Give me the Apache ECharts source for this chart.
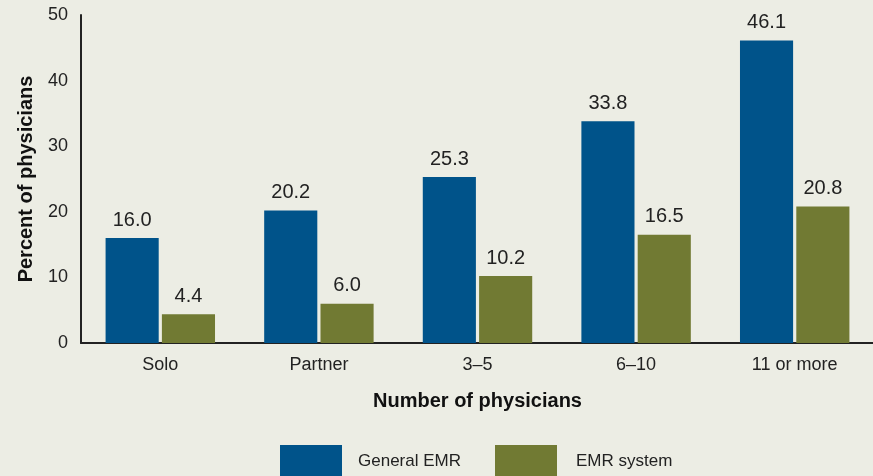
<!DOCTYPE html>
<html><head><meta charset="utf-8">
<script src="https://cdn.jsdelivr.net/npm/echarts@6/dist/echarts.min.js"></script>
<style>html,body{margin:0;padding:0;background:#ecede4;}#c{width:873px;height:476px;}</style>
</head><body><div id="c"></div>
<script>
const categories = ['Solo', 'Partner', '3–5', '6–10', '11 or more'];
const generalEMR = [16.0, 20.2, 25.3, 33.8, 46.1];
const emrSystem = [4.4, 6.0, 10.2, 16.5, 20.8];
const yTicks = [0, 10, 20, 30, 40, 50];
const FONT = '"Liberation Sans", Arial, sans-serif';
const chart = echarts.init(document.getElementById('c'));
const labelOpt = { show: true, position: 'top', fontSize: 20, color: '#222', distance: 8, fontFamily: FONT, formatter: p => p.value.toFixed(1) };
chart.setOption({
  backgroundColor: '#ecede4',
  animation: false,
  textStyle: { fontFamily: FONT },
  grid: { left: 81, right: -1, top: 15, bottom: 133, outerBoundsMode: 'none', containLabel: false },
  legend: [
    { top: 445, left: 280, padding: 0, icon: 'rect', itemWidth: 62, itemHeight: 32,
      textStyle: { fontSize: 17, color: '#222', fontFamily: FONT, padding: [0,0,0,11] },
      data: ['General EMR'] },
    { top: 445, left: 495, padding: 0, icon: 'rect', itemWidth: 62, itemHeight: 32,
      textStyle: { fontSize: 17, color: '#222', fontFamily: FONT, padding: [0,0,0,14] },
      data: ['EMR system'] }
  ],
  xAxis: {
    type: 'category', data: categories,
    name: 'Number of physicians', nameLocation: 'middle', nameGap: 48,
    nameTextStyle: { fontSize: 20, fontWeight: 'bold', color: '#111', fontFamily: FONT },
    axisLine: { lineStyle: { color: '#222', width: 2 } },
    axisTick: { show: false },
    axisLabel: { fontSize: 18, color: '#222', margin: 13, fontFamily: FONT }
  },
  yAxis: {
    type: 'value', min: yTicks[0], max: yTicks[yTicks.length-1], interval: 10,
    name: 'Percent of physicians', nameLocation: 'middle', nameGap: 45,
    nameTextStyle: { fontSize: 20, fontWeight: 'bold', color: '#111', fontFamily: FONT },
    axisLine: { show: true, lineStyle: { color: '#222', width: 2 } },
    axisTick: { show: false },
    splitLine: { show: false },
    axisLabel: { fontSize: 18, color: '#222', margin: 13, fontFamily: FONT }
  },
  series: [
    { name: 'General EMR', type: 'bar', data: generalEMR, itemStyle: { color: '#00538a' },
      barGap: '6%', barCategoryGap: '31%', label: labelOpt },
    { name: 'EMR system', type: 'bar', data: emrSystem, itemStyle: { color: '#717a33' },
      label: labelOpt }
  ]
});
</script></body></html>
